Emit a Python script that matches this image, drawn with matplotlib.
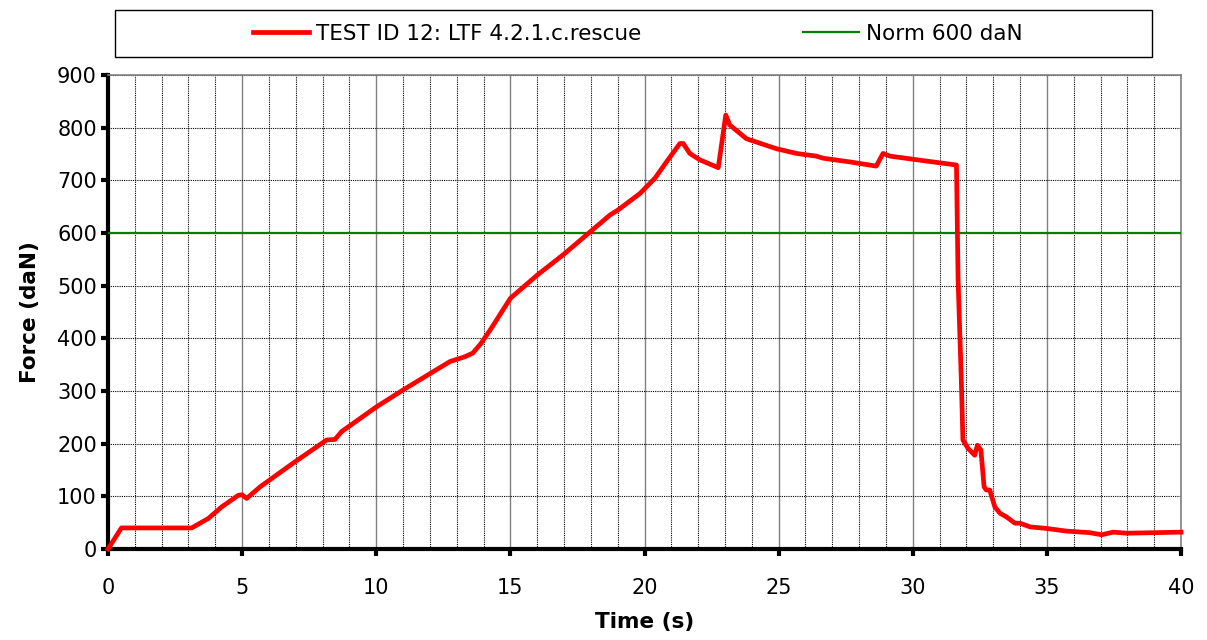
"""Force vs time curve for a rescue test, with the 600 daN norm line."""

import matplotlib
matplotlib.use('Agg')
import matplotlib.pyplot as plt
from matplotlib.patches import Rectangle
from matplotlib.ticker import MultipleLocator

TEST_COLOUR = '#FF0000'
NORM_COLOUR = '#008000'

# values
time_s = [
    0.0, 0.5, 3.12, 3.74, 4.24, 4.86, 5.0, 5.17, 5.67, 6.9, 8.15, 8.46, 8.71,
    10.01, 11.0, 12.75, 13.3, 13.6, 13.9, 14.3, 14.7, 15.0, 16.0, 17.0,
    18.34, 18.71, 19.02, 19.83, 20.39, 20.82, 21.32, 21.44, 21.69, 22.06,
    22.75, 23.03, 23.18, 23.8, 24.92, 25.67, 26.4, 26.66, 27.65, 28.64,
    28.89, 29.15, 30.01, 31.63, 31.69, 31.81, 31.87, 32.06, 32.31, 32.41,
    32.54, 32.66, 32.74, 32.87, 33.06, 33.25, 33.49, 33.81, 34.0, 34.37,
    34.99, 35.73, 36.6, 37.04, 37.47, 37.97, 40.0,
]
force_dan = [
    0, 40, 40, 58, 80, 102, 103, 96, 118, 163, 207, 208, 223,
    270, 302, 356, 365, 372, 390, 420, 452, 476, 520, 560,
    618, 634, 644, 675, 704, 735, 770, 770, 751, 739,
    724, 824, 805, 779, 760, 751, 746, 742, 735, 727,
    751, 746, 740, 729, 511, 321, 207, 191, 178, 197,
    188, 118, 112, 112, 80, 68, 61, 49, 49, 42,
    39, 34, 31, 27, 32, 30, 32,
]
norm_value = 600
labels = ['TEST ID 12: LTF 4.2.1.c.rescue', 'Norm 600 daN']

plt.rcParams['font.family'] = 'DejaVu Sans'

fig = plt.figure(figsize=(12.07, 6.4), dpi=100)
ax = fig.add_axes([108 / 1207, 91 / 640, 1073 / 1207, 474 / 640])

test_line, = ax.plot(time_s, force_dan, color=TEST_COLOUR, lw=3.4,
                     solid_joinstyle='round', zorder=4, clip_on=False)
norm_line = ax.axhline(norm_value, color=NORM_COLOUR, lw=1.6, zorder=3)

ax.set_xlim(0, 40)
ax.set_ylim(0, 900)
ax.xaxis.set_major_locator(MultipleLocator(5))
ax.xaxis.set_minor_locator(MultipleLocator(1))
ax.yaxis.set_major_locator(MultipleLocator(100))

ax.grid(which='minor', axis='x', color='black', ls=(0, (1, 1)), lw=0.8)
ax.grid(which='major', axis='x', color='#808080', ls='-', lw=1.0)
ax.grid(which='major', axis='y', color='black', ls=(0, (1, 1)), lw=0.8)
ax.set_axisbelow(True)

for side in ('left', 'bottom'):
    ax.spines[side].set_linewidth(3)
    ax.spines[side].set_color('black')
for side in ('top', 'right'):
    ax.spines[side].set_linewidth(1.2)
    ax.spines[side].set_color('#808080')

ax.tick_params(which='major', direction='out', length=5, width=3,
               labelsize=15)
ax.tick_params(axis='y', which='major', pad=3)
ax.tick_params(axis='x', which='major', pad=16)
ax.tick_params(which='minor', length=0)

ax.set_xlabel('Time (s)', fontsize=15.5, fontweight='bold', labelpad=10)
ax.set_ylabel('Force (daN)', fontsize=15.5, fontweight='bold', labelpad=12)

# legend box across the top
fig.patches.append(Rectangle((115 / 1207, 1 - 57 / 640), 1037 / 1207, 47 / 640,
                             transform=fig.transFigure, fill=False,
                             edgecolor='black', lw=1.0))
fig.legend([test_line, norm_line], labels, ncol=2, frameon=False,
           loc='center', bbox_to_anchor=(638 / 1207, 1 - 34 / 640),
           fontsize=15.5, handlelength=2.6, handletextpad=0.33,
           columnspacing=7.5)

fig.savefig('out.png', dpi=100)
